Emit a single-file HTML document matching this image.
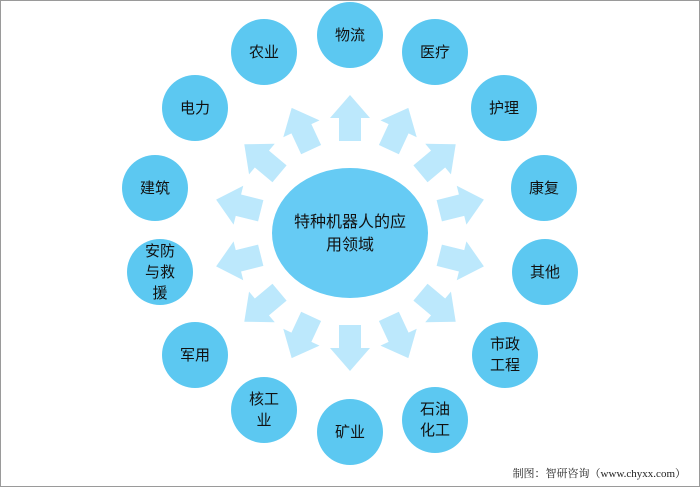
<!DOCTYPE html>
<html><head><meta charset="utf-8"><style>
body{margin:0;width:700px;height:487px;background:#fff;overflow:hidden;font-family:"Liberation Sans","Noto Sans CJK SC",sans-serif}
.f{position:absolute;left:0;top:0;width:698px;height:485px;border:1px solid #9a9a9a}
.c{position:absolute;width:66px;height:66px;border-radius:50%;background:#5cc8f1;display:flex;align-items:center;justify-content:center;text-align:center;font-size:15px;color:#111;line-height:21px}
.foot{position:absolute;right:14px;top:465px;font-size:11px;color:#222;font-family:"Liberation Serif","Noto Serif CJK SC",serif}
</style></head><body>
<div class="f"></div>
<svg width="700" height="487" style="position:absolute;left:0;top:0">
<defs><polygon id="a" points="-11,-92 11,-92 11,-115 20,-115 0,-138 -20,-115 -11,-115" fill="#bce8fc"/></defs>
<g transform="translate(350,233)">
<use href="#a" transform="rotate(0)"/><use href="#a" transform="rotate(25)"/><use href="#a" transform="rotate(50)"/><use href="#a" transform="rotate(76)"/>
<use href="#a" transform="rotate(104)"/><use href="#a" transform="rotate(130)"/><use href="#a" transform="rotate(155)"/><use href="#a" transform="rotate(180)"/>
<use href="#a" transform="rotate(205)"/><use href="#a" transform="rotate(230)"/><use href="#a" transform="rotate(256)"/><use href="#a" transform="rotate(284)"/>
<use href="#a" transform="rotate(310)"/><use href="#a" transform="rotate(335)"/>
</g>
<ellipse cx="350" cy="233" rx="78" ry="65" fill="#66cbf4"/>
<text x="350" y="227" text-anchor="middle" font-size="16" fill="#111" font-family="Liberation Sans,Noto Sans CJK SC,sans-serif">特种机器人的应</text>
<text x="350" y="250" text-anchor="middle" font-size="16" fill="#111" font-family="Liberation Sans,Noto Sans CJK SC,sans-serif">用领域</text>
</svg>
<div class="c" style="left:317px;top:2px">物流</div>
<div class="c" style="left:402px;top:19px">医疗</div>
<div class="c" style="left:471px;top:75px">护理</div>
<div class="c" style="left:511px;top:155px">康复</div>
<div class="c" style="left:512px;top:239px">其他</div>
<div class="c" style="left:472px;top:322px">市政<br>工程</div>
<div class="c" style="left:402px;top:387px">石油<br>化工</div>
<div class="c" style="left:317px;top:399px">矿业</div>
<div class="c" style="left:231px;top:377px">核工<br>业</div>
<div class="c" style="left:162px;top:322px">军用</div>
<div class="c" style="left:127px;top:239px">安防<br>与救<br>援</div>
<div class="c" style="left:122px;top:155px">建筑</div>
<div class="c" style="left:162px;top:75px">电力</div>
<div class="c" style="left:231px;top:19px">农业</div>
<div class="foot">制图：智研咨询（www.chyxx.com）</div>
</body></html>
